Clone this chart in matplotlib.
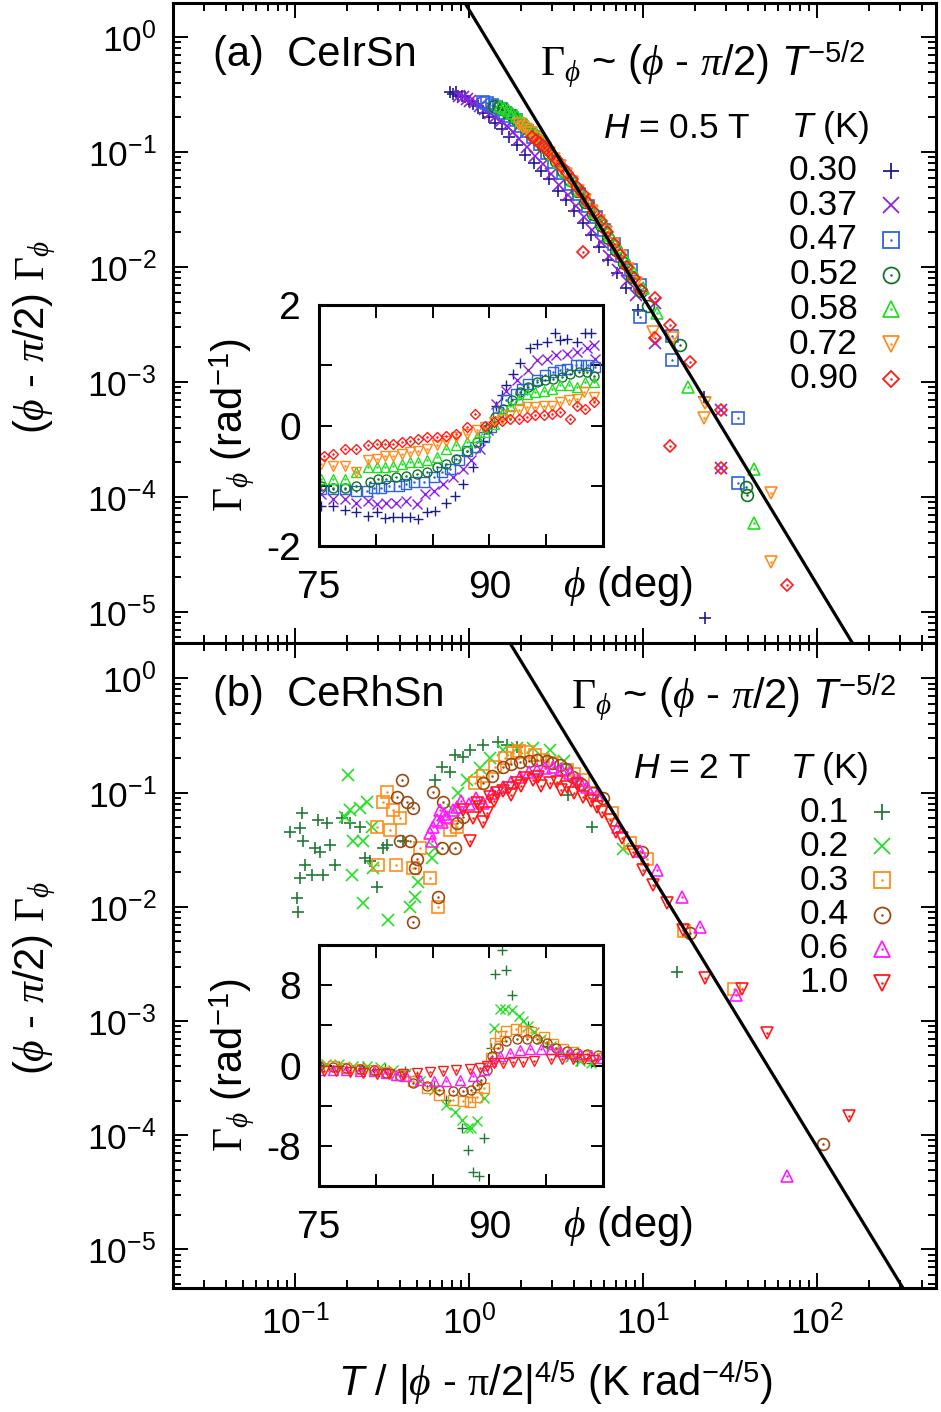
import numpy as np
import matplotlib
matplotlib.use("Agg")
import matplotlib.pyplot as plt
from matplotlib.lines import Line2D

plt.rcParams['font.family'] = ['Liberation Sans', 'DejaVu Sans']
plt.rcParams['mathtext.fontset'] = 'custom'
plt.rcParams['mathtext.rm'] = 'Liberation Serif'
plt.rcParams['mathtext.it'] = 'Liberation Serif:italic'
plt.rcParams['mathtext.sf'] = 'Liberation Sans:italic'
plt.rcParams['mathtext.tt'] = 'Liberation Sans'

W, H = 941, 1412
FS = 25.5      # ticks and key
FS_BIG = 30    # axis titles, panel titles
FS_IN = 28     # inset labels

# ---------------- panel (a) CeIrSn, H = 0.5 T ----------------
a_temps = ['0.30', '0.37', '0.47', '0.52', '0.58', '0.72', '0.90']
a_markers = ['+', 'x', 's', 'o', '^', 'v', 'D']
a_colors = ['#1c1c8c', '#8c20e0', '#2d64e0', '#127325', '#22dd22', '#ff8c1a', '#ff1a1a']

x_a_030 = [0.78, 0.81, 0.84, 0.87, 0.91, 0.95, 1.0, 1.06, 1.12, 1.2, 1.3, 1.42, 1.55, 1.7, 1.9, 2.1,
           2.35, 2.6, 2.9, 3.25, 3.6, 4.0, 4.5, 5.0, 5.6, 6.3, 7.1, 8.0, 9.4, 22.4, 22.7]
y_a_030 = [0.33, 0.32, 0.33, 0.31, 0.31, 0.30, 0.28, 0.26, 0.25, 0.22, 0.20, 0.18, 0.16, 0.135, 0.115,
           0.095, 0.080, 0.068, 0.058, 0.046, 0.038, 0.031, 0.024, 0.019, 0.015, 0.0115, 0.0088,
           0.0066, 0.0042, 7.4e-4, 8.9e-6]
x_a_037 = [0.88, 0.92, 0.97, 1.02, 1.08, 1.15, 1.23, 1.32, 1.42, 1.53, 1.65, 1.8, 1.95, 2.15, 2.4,
           2.65, 2.95, 3.3, 3.7, 4.1, 4.6, 5.1, 5.7, 6.4, 7.2, 8.1, 9.1, 11.7, 11.7, 28.1, 28.1]
y_a_037 = [0.31, 0.30, 0.29, 0.28, 0.27, 0.25, 0.235, 0.22, 0.20, 0.185, 0.17, 0.15, 0.13, 0.11,
           0.092, 0.078, 0.064, 0.052, 0.042, 0.034, 0.027, 0.021, 0.0165, 0.0125, 0.0095, 0.0075,
           0.0057, 0.0049, 0.0022, 5.7e-4, 1.8e-4]
x_a_047 = [1.2, 1.27, 1.35, 1.43, 1.52, 1.62, 1.73, 1.86, 2.0, 2.15, 2.33, 2.55, 2.8, 3.1, 3.45,
           3.85, 4.3, 4.8, 5.4, 6.0, 6.8, 7.6, 8.5, 9.6, 9.6, 14.7, 14.7, 35.2, 35.2]
y_a_047 = [0.27, 0.265, 0.255, 0.245, 0.235, 0.22, 0.205, 0.19, 0.17, 0.152, 0.135, 0.117, 0.099,
           0.082, 0.066, 0.053, 0.043, 0.034, 0.027, 0.021, 0.016, 0.0125, 0.0095, 0.0070, 0.0037,
           0.0025, 0.00155, 4.9e-4, 1.32e-4]
x_a_052 = [1.4, 1.48, 1.57, 1.66, 1.76, 1.87, 2.0, 2.14, 2.3, 2.48, 2.68, 2.9, 3.15, 3.45, 3.8,
           4.2, 4.65, 5.15, 5.7, 6.3, 7.0, 7.8, 8.7, 9.7, 10.7, 16.3, 39.1, 39.6]
y_a_052 = [0.25, 0.245, 0.235, 0.225, 0.21, 0.195, 0.18, 0.163, 0.145, 0.128, 0.112, 0.097, 0.083,
           0.069, 0.057, 0.046, 0.037, 0.029, 0.023, 0.018, 0.014, 0.0108, 0.0082, 0.0062, 0.0046,
           0.0021, 1.22e-4, 1.05e-4]
x_a_058 = [1.5, 1.58, 1.67, 1.77, 1.88, 2.0, 2.13, 2.28, 2.45, 2.63, 2.83, 3.05, 3.3, 3.6, 3.95,
           4.35, 4.8, 5.3, 5.9, 6.5, 7.2, 8.0, 8.9, 10.0, 12.0, 18.1, 43.4, 43.4]
y_a_058 = [0.25, 0.24, 0.23, 0.22, 0.205, 0.19, 0.175, 0.158, 0.142, 0.125, 0.11, 0.096, 0.082,
           0.069, 0.057, 0.047, 0.038, 0.030, 0.024, 0.019, 0.0148, 0.0115, 0.0088, 0.0066, 0.0040,
           9.0e-4, 1.75e-4, 5.9e-5]
x_a_072 = [1.95, 2.05, 2.16, 2.28, 2.42, 2.57, 2.73, 2.9, 3.1, 3.35, 3.6, 3.9, 4.25, 4.65, 5.1,
           5.6, 6.1, 6.7, 7.4, 8.2, 9.1, 11.4, 14.9, 22.7, 22.4, 54.4, 54.4]
y_a_072 = [0.175, 0.165, 0.155, 0.145, 0.133, 0.121, 0.109, 0.098, 0.087, 0.075, 0.065, 0.055,
           0.046, 0.038, 0.031, 0.025, 0.020, 0.016, 0.0125, 0.0096, 0.0072, 0.0027, 0.0024,
           6.6e-4, 4.9e-4, 1.08e-4, 2.7e-5]
x_a_090 = [2.3, 2.42, 2.55, 2.7, 2.85, 3.0, 3.2, 3.4, 3.65, 3.9, 4.2, 4.5, 4.85, 5.25, 5.7, 6.2,
           6.8, 7.4, 8.1, 8.9, 9.8, 11.7, 14.3, 11.7, 18.6, 28.1, 14.3, 28.1, 67.2, 4.5]
y_a_090 = [0.135, 0.128, 0.12, 0.111, 0.103, 0.095, 0.085, 0.076, 0.066, 0.058, 0.050, 0.043,
           0.036, 0.030, 0.025, 0.020, 0.016, 0.0128, 0.0101, 0.0080, 0.0063, 0.0054, 0.0031,
           0.0024, 0.0015, 5.7e-4, 2.8e-4, 1.8e-4, 1.7e-5, 0.0135]

# inset (a): Gamma_phi vs phi (deg)
phi_a_030 = [75.2, 76.2, 77.3, 78.3, 79.3, 80.1, 80.8, 81.5, 82.3, 83.0, 83.7, 84.5, 85.2, 86.2,
             87.0, 87.7, 88.6, 89.4, 90.6, 91.1, 91.5, 92.1, 92.7, 93.6, 94.2, 95.1, 95.8, 96.2,
             96.8, 97.7, 98.4, 98.9]
gam_a_030 = [-1.33, -1.33, -1.40, -1.44, -1.50, -1.44, -1.53, -1.52, -1.52, -1.52, -1.56, -1.43,
             -1.42, -1.28, -1.17, -0.97, -0.69, -0.25, 0.33, 0.50, 0.67, 0.86, 1.03, 1.28, 1.36,
             1.39, 1.53, 1.42, 1.44, 1.39, 1.53, 1.53]
phi_a_037 = [75.2, 76.2, 77.3, 78.3, 79.3, 80.1, 80.9, 81.8, 82.7, 83.6, 84.3, 85.1, 85.9, 86.8,
             87.7, 88.4, 89.2, 89.9, 90.6, 91.5, 92.4, 93.4, 94.2, 95.1, 95.9, 96.8, 97.7, 98.6,
             99.2, 99.3]
gam_a_037 = [-1.14, -1.22, -1.22, -1.28, -1.25, -1.31, -1.28, -1.28, -1.25, -1.31, -1.14, -1.08,
             -0.97, -0.86, -0.72, -0.58, -0.39, -0.08, 0.36, 0.58, 0.75, 0.92, 1.08, 1.11, 1.17,
             1.19, 1.22, 1.28, 1.33, 1.11]
phi_a_047 = [75.2, 76.2, 77.3, 78.3, 79.2, 79.8, 80.5, 81.2, 82.0, 82.7, 83.4, 84.2, 85.1, 85.8,
             86.5, 87.3, 88.0, 88.7, 89.5, 90.1, 90.8, 91.5, 92.3, 92.9, 93.4, 94.2, 94.9, 95.6,
             96.2, 96.8, 97.6, 98.1, 98.7, 99.3]
gam_a_047 = [-1.06, -1.06, -1.06, -1.08, -1.08, -1.03, -1.03, -1.00, -1.00, -0.97, -0.94, -0.94,
             -0.86, -0.78, -0.72, -0.58, -0.42, -0.36, -0.19, -0.03, 0.22, 0.42, 0.53, 0.61, 0.69,
             0.75, 0.83, 0.89, 0.92, 0.94, 1.00, 1.00, 1.00, 0.97]
phi_a_052 = [75.2, 76.2, 77.3, 78.3, 79.5, 80.2, 80.9, 81.8, 82.7, 83.6, 84.5, 85.4, 86.2, 87.1,
             88.0, 88.9, 89.8, 90.5, 91.2, 92.0, 92.7, 93.4, 94.2, 94.9, 95.6, 96.4, 97.1, 97.9,
             98.6, 99.2]
gam_a_052 = [-1.00, -1.03, -1.03, -1.00, -0.94, -0.89, -0.89, -0.86, -0.83, -0.81, -0.78, -0.69,
             -0.64, -0.56, -0.42, -0.28, -0.06, 0.14, 0.28, 0.42, 0.56, 0.64, 0.72, 0.75, 0.78,
             0.81, 0.86, 0.89, 0.89, 0.82]
phi_a_058 = [75.2, 76.2, 77.3, 78.3, 79.3, 80.1, 80.8, 81.5, 82.3, 83.0, 83.7, 84.5, 85.4, 86.2,
             87.1, 88.0, 88.9, 89.6, 90.4, 91.1, 91.8, 92.6, 93.3, 94.0, 94.8, 95.5, 96.2, 97.0,
             97.7, 98.4, 99.2]
gam_a_058 = [-0.89, -0.89, -0.89, -0.78, -0.69, -0.69, -0.69, -0.67, -0.64, -0.61, -0.61, -0.58,
             -0.53, -0.39, -0.33, -0.28, -0.19, -0.11, 0.03, 0.19, 0.33, 0.44, 0.53, 0.56, 0.58,
             0.61, 0.67, 0.67, 0.64, 0.72, 0.72]
phi_a_072 = [75.2, 76.2, 77.3, 78.3, 79.3, 80.1, 80.8, 81.5, 82.3, 83.0, 83.7, 84.5, 85.4, 86.2,
             87.1, 88.0, 88.9, 89.6, 90.4, 91.1, 91.8, 92.6, 93.3, 94.0, 94.8, 95.5, 96.2, 97.0,
             97.7, 98.3, 99.2]
gam_a_072 = [-0.64, -0.67, -0.67, -0.78, -0.58, -0.56, -0.50, -0.50, -0.47, -0.44, -0.42, -0.39,
             -0.33, -0.25, -0.19, -0.14, -0.08, -0.03, 0.06, 0.11, 0.17, 0.25, 0.31, 0.31, 0.33,
             0.33, 0.39, 0.42, 0.44, 0.56, 0.47]
phi_a_090 = [75.4, 76.2, 77.3, 78.3, 79.3, 80.1, 80.8, 81.5, 82.3, 83.0, 83.7, 84.5, 85.4, 86.2,
             87.1, 88.0, 88.7, 89.6, 90.4, 91.1, 91.8, 92.6, 93.3, 94.0, 94.8, 95.5, 96.2, 97.1,
             97.7, 98.4, 99.2]
gam_a_090 = [-0.50, -0.47, -0.39, -0.39, -0.33, -0.31, -0.31, -0.31, -0.28, -0.25, -0.22, -0.19,
             -0.19, -0.17, -0.14, -0.03, 0.19, 0.00, 0.06, 0.08, 0.11, 0.11, 0.14, 0.17, 0.17,
             0.19, 0.22, 0.11, 0.33, 0.28, 0.39]

# ---------------- panel (b) CeRhSn, H = 2 T ----------------
b_temps = ['0.1', '0.2', '0.3', '0.4', '0.6', '1.0']
b_markers = ['+', 'x', 's', 'o', '^', 'v']
b_colors = ['#237a37', '#22e022', '#ff8c1a', '#9c4a14', '#ff1aff', '#ff1a1a']

x_b_01 = [0.109, 0.136, 0.153, 0.094, 0.107, 0.111, 0.130, 0.139, 0.114, 0.125, 0.107, 0.145,
          0.170, 0.103, 0.104, 0.159, 0.186, 0.207, 0.236, 0.253, 0.296, 0.270, 0.321, 0.338,
          0.418, 0.638, 0.700, 0.778, 0.831, 0.924, 1.01, 1.20, 1.47, 1.65, 1.89, 3.71, 5.09, 15.7]
y_b_01 = [0.066, 0.057, 0.054, 0.045, 0.049, 0.038, 0.033, 0.030, 0.023, 0.019, 0.018, 0.019,
          0.023, 0.012, 0.009, 0.035, 0.060, 0.054, 0.050, 0.027, 0.015, 0.025, 0.033, 0.035,
          0.038, 0.129, 0.167, 0.151, 0.213, 0.205, 0.236, 0.261, 0.277, 0.261, 0.250, 0.095,
          0.050, 0.0027]
x_b_02 = [0.194, 0.201, 0.207, 0.236, 0.259, 0.215, 0.246, 0.277, 0.281, 0.212, 0.246, 0.343,
          0.458, 0.489, 0.51, 0.613, 0.638, 0.81, 0.865, 0.974, 1.16, 1.32, 1.57, 1.89, 2.33,
          2.92, 3.5, 7.67]
y_b_02 = [0.061, 0.142, 0.070, 0.074, 0.083, 0.038, 0.038, 0.050, 0.022, 0.019, 0.0108, 0.0077,
          0.0100, 0.0122, 0.0164, 0.027, 0.033, 0.070, 0.100, 0.129, 0.165, 0.200, 0.236, 0.246,
          0.246, 0.236, 0.19, 0.032]
x_b_03 = [0.296, 0.30, 0.321, 0.338, 0.351, 0.366, 0.381, 0.40, 0.476, 0.523, 0.597, 0.664,
          0.778, 0.853, 1.08, 1.2, 1.41, 1.6, 1.79, 1.95, 2.15, 2.4, 2.66, 3.0, 3.66, 4.0, 4.52,
          5.0, 6.6, 8.4, 10.6, 17.2, 33.5]
y_b_03 = [0.050, 0.023, 0.083, 0.101, 0.047, 0.070, 0.023, 0.060, 0.022, 0.033, 0.0177, 0.0100,
          0.047, 0.050, 0.121, 0.14, 0.167, 0.20, 0.222, 0.23, 0.227, 0.215, 0.193, 0.18, 0.158,
          0.145, 0.129, 0.10, 0.066, 0.0364, 0.026, 0.0061, 0.0019]
x_b_04 = [0.386, 0.40, 0.412, 0.44, 0.458, 0.476, 0.476, 0.489, 0.503, 0.621, 0.664, 0.70, 0.71,
          0.83, 0.853, 0.924, 1.20, 1.35, 1.57, 1.75, 1.96, 2.2, 2.46, 2.8, 3.0, 3.33, 3.6, 3.96,
          4.4, 5.16, 5.88, 9.9, 18.6, 107.7]
y_b_04 = [0.091, 0.038, 0.129, 0.083, 0.038, 0.073, 0.0074, 0.022, 0.026, 0.101, 0.0122, 0.033,
          0.083, 0.033, 0.054, 0.061, 0.121, 0.14, 0.167, 0.178, 0.185, 0.19, 0.193, 0.188, 0.18,
          0.174, 0.16, 0.137, 0.12, 0.100, 0.089, 0.030, 0.0059, 8.4e-5]
x_b_06 = [0.597, 0.613, 0.62, 0.655, 0.681, 0.70, 0.72, 0.747, 0.81, 0.853, 0.9, 1.0, 1.1, 1.2,
          1.35, 1.57, 1.75, 1.96, 2.2, 2.46, 2.75, 3.04, 3.4, 3.80, 4.3, 4.76, 5.43, 7.2, 9.6,
          12.0, 16.7, 21.2, 34.3, 67.2]
y_b_06 = [0.044, 0.038, 0.050, 0.058, 0.070, 0.055, 0.065, 0.061, 0.070, 0.075, 0.085, 0.080,
          0.090, 0.081, 0.100, 0.112, 0.125, 0.137, 0.150, 0.158, 0.165, 0.167, 0.160, 0.148,
          0.130, 0.112, 0.095, 0.050, 0.031, 0.0211, 0.0123, 0.0067, 0.0017, 4.4e-5]
x_b_10 = [0.924, 1.01, 1.05, 1.11, 1.15, 1.2, 1.27, 1.32, 1.4, 1.45, 1.57, 1.7, 1.75, 1.89, 2.0,
          2.1, 2.33, 2.5, 2.6, 2.92, 3.2, 3.4, 3.66, 4.0, 4.2, 4.52, 5.0, 5.43, 5.8, 6.45, 7.0,
          7.6, 8.8, 10.0, 11.4, 13.7, 16.9, 22.6, 37.0, 51.3, 152.8]
y_b_10 = [0.070, 0.038, 0.060, 0.081, 0.075, 0.055, 0.066, 0.091, 0.085, 0.100, 0.104, 0.110,
          0.095, 0.121, 0.115, 0.135, 0.129, 0.137, 0.115, 0.121, 0.125, 0.105, 0.112, 0.100,
          0.118, 0.091, 0.085, 0.075, 0.068, 0.058, 0.045, 0.040, 0.030, 0.021, 0.0155, 0.0108,
          0.0063, 0.0024, 0.0019, 7.8e-4, 1.47e-4]

# inset (b)
phi_b_01 = [75.2, 76.8, 78.9, 80.8, 82.6, 83.6, 85.1, 86.2, 87.6, 88.1, 88.6, 89.1, 89.5, 90.1,
            90.5, 91.1, 91.5, 92.0, 93.4, 95.1, 96.8, 97.7, 98.9]
gam_b_01 = [-0.07, -0.07, -0.07, -0.23, -0.57, -1.07, -2.07, -3.4, -6.2, -8.4, -10.6, -11.0,
            -7.2, 1.77, 9.1, 11.5, 9.5, 7.0, 3.9, 1.9, 0.9, 0.4, 0.27]
phi_b_02 = [75.6, 76.8, 78.0, 79.2, 80.4, 81.5, 82.7, 83.9, 85.1, 86.2, 87.0, 87.6, 88.1, 88.4,
            88.9, 89.5, 90.4, 90.9, 91.4, 92.0, 92.6, 93.0, 93.4, 93.9, 94.5, 95.4, 96.2, 97.1,
            98.0, 98.9]
gam_b_02 = [0.1, 0.1, -0.07, -0.07, -0.13, -0.4, -0.73, -1.57, -2.4, -3.9, -4.6, -5.4, -6.2,
            -6.2, -5.5, -3.2, 3.7, 5.6, 5.6, 5.5, 4.9, 4.4, 3.9, 3.3, 2.6, 1.9, 1.3, 0.8, 0.4, 0.27]
phi_b_03 = [75.0, 76.2, 77.4, 78.6, 79.8, 80.9, 82.1, 83.3, 84.5, 85.6, 86.8, 87.7, 88.3, 88.9,
            89.5, 90.1, 90.5, 90.9, 91.5, 92.3, 93.0, 93.7, 94.8, 95.6, 96.5, 97.4, 98.3, 99.9]
gam_b_03 = [-0.07, -0.07, -0.23, -0.33, -0.47, -0.67, -0.9, -1.57, -2.23, -2.9, -3.4, -3.57,
            -3.6, -3.1, -2.2, 0.77, 2.27, 2.9, 3.4, 3.6, 3.4, 3.3, 2.8, 2.1, 1.6, 1.3, 0.9, 0.77]
phi_b_04 = [75.0, 76.2, 77.4, 78.6, 79.8, 80.9, 82.1, 83.3, 84.5, 85.6, 86.8, 87.7, 88.4, 88.9,
            89.3, 89.8, 90.2, 90.8, 91.5, 92.4, 93.3, 94.2, 95.1, 95.9, 96.8, 97.7, 98.6, 99.6]
gam_b_04 = [-0.07, -0.1, -0.2, -0.3, -0.45, -0.7, -1.07, -1.73, -2.07, -2.4, -2.57, -2.57, -2.4,
            -1.9, -1.4, -0.4, 0.93, 1.77, 2.43, 2.6, 2.6, 2.6, 2.27, 1.77, 1.43, 1.27, 1.1, 1.0]
phi_b_06 = [75.0, 76.2, 77.4, 78.6, 79.8, 80.9, 81.8, 82.7, 83.9, 85.1, 86.2, 87.4, 88.6, 89.5,
            90.1, 90.9, 91.8, 92.7, 93.6, 94.5, 95.4, 96.2, 97.1, 98.0, 98.9, 99.9]
gam_b_06 = [-0.4, -0.4, -0.4, -0.57, -0.57, -0.73, -0.9, -1.07, -1.4, -1.57, -1.57, -1.4, -1.07,
            -0.4, 0.43, 0.93, 1.27, 1.53, 1.67, 1.67, 1.6, 1.43, 1.27, 1.1, 1.0, 0.77]
phi_b_10 = [75.4, 76.5, 77.7, 78.9, 80.1, 81.2, 82.4, 83.6, 84.8, 85.9, 87.1, 88.3, 89.2, 89.8,
            90.4, 91.2, 92.1, 93.0, 93.9, 95.4, 96.4, 97.4, 98.3, 99.2]
gam_b_10 = [-0.57, -0.57, -0.67, -0.73, -0.8, -0.8, -0.8, -0.73, -0.67, -0.57, -0.4, -0.33,
            -0.23, -0.07, 0.27, 0.27, 0.33, 0.37, 0.43, 0.67, 0.6, 0.6, 0.6, 0.53]

# power-law guide  (phi - pi/2) Gamma ~ x^(-5/2)
guide_exponent = -2.5
guide_prefactor_a = 1.73
guide_prefactor_b = 7.9

a_main = [(x_a_030, y_a_030), (x_a_037, y_a_037), (x_a_047, y_a_047), (x_a_052, y_a_052),
          (x_a_058, y_a_058), (x_a_072, y_a_072), (x_a_090, y_a_090)]
a_inset = [(phi_a_030, gam_a_030), (phi_a_037, gam_a_037), (phi_a_047, gam_a_047),
           (phi_a_052, gam_a_052), (phi_a_058, gam_a_058), (phi_a_072, gam_a_072),
           (phi_a_090, gam_a_090)]
b_main = [(x_b_01, y_b_01), (x_b_02, y_b_02), (x_b_03, y_b_03), (x_b_04, y_b_04),
          (x_b_06, y_b_06), (x_b_10, y_b_10)]
b_inset = [(phi_b_01, gam_b_01), (phi_b_02, gam_b_02), (phi_b_03, gam_b_03),
           (phi_b_04, gam_b_04), (phi_b_06, gam_b_06), (phi_b_10, gam_b_10)]


def box(left, top, right, bottom):
    return [left / W, 1 - bottom / H, (right - left) / W, (bottom - top) / H]


def fxy(px, py):
    return px / W, 1 - py / H


def draw(ax, x, y, marker, color, ms, mew=1.2):
    size = ms * 0.75 if marker == 'D' else ms
    ax.plot(x, y, ls='none', marker=marker, ms=size, mfc='none', mec=color, mew=mew)
    if marker not in ('+', 'x'):
        ax.plot(x, y, ls='none', marker='.', ms=1.6, color=color)


fig = plt.figure(figsize=(W / 100, H / 100), dpi=100)
ax_a = fig.add_axes(box(173, 3, 936, 643))
ax_b = fig.add_axes(box(173, 643, 936, 1288))
in_a = fig.add_axes(box(319, 305, 603, 546))
in_b = fig.add_axes(box(319, 945, 603, 1186))

xline = np.logspace(-2, 3, 300)

for ax, series, markers, colors, pref, ylim in [
        (ax_a, a_main, a_markers, a_colors, guide_prefactor_a, (5.37e-6, 1.977)),
        (ax_b, b_main, b_markers, b_colors, guide_prefactor_b, (4.6e-6, 2.04))]:
    for (x, y), m, c in zip(series, markers, colors):
        draw(ax, x, y, m, c, 8.5)
    ax.plot(xline, pref * xline ** guide_exponent, color='black', lw=2.3, zorder=5)
    ax.set_xscale('log')
    ax.set_yscale('log')
    ax.set_xlim(0.0199, 483)
    ax.set_ylim(*ylim)
    ax.set_yticks([1e0, 1e-1, 1e-2, 1e-3, 1e-4, 1e-5])
    ax.yaxis.set_minor_locator(matplotlib.ticker.LogLocator(subs=np.arange(2, 10), numticks=20))
    ax.xaxis.set_minor_locator(matplotlib.ticker.LogLocator(subs=np.arange(2, 10), numticks=20))
    ax.tick_params(which='both', direction='in', top=True, right=True, width=1.4,
                   labelsize=FS)
    ax.tick_params(which='major', length=11, pad=12)
    ax.tick_params(which='minor', length=5.5)
    for s in ax.spines.values():
        s.set_linewidth(2.2)
ax_a.tick_params(labelbottom=False)

for ax, series, markers, colors, ylim, yt, ytl in [
        (in_a, a_inset, a_markers, a_colors, (-2, 2), [-2, -1, 0, 1, 2], ['-2', '', '0', '', '2']),
        (in_b, b_inset, b_markers, b_colors, (-12, 12), [-8, -4, 0, 4, 8], ['-8', '', '0', '', '8'])]:
    for (x, y), m, c in zip(series, markers, colors):
        draw(ax, x, y, m, c, 6.5, mew=1.0)
    ax.set_xlim(75, 100)
    ax.set_ylim(*ylim)
    ax.set_xticks([75, 80, 85, 90, 95, 100])
    ax.set_xticklabels(['75', '', '', '90', '', ''])
    ax.set_yticks(yt)
    ax.set_yticklabels(ytl)
    ax.tick_params(direction='in', top=True, right=True, width=1.4, length=9,
                   labelsize=FS_IN)
    ax.tick_params(axis='x', pad=17)
    ax.tick_params(axis='y', pad=13)
    for s in ax.spines.values():
        s.set_linewidth(2.2)

# labels
phi_txt = r"($\phi$ - $\pi$/2) $\Gamma_{\phi}$"
fig.text(*fxy(35, 337), phi_txt, rotation=90, ha='center', va='center', fontsize=FS_BIG)
fig.text(*fxy(35, 978), phi_txt, rotation=90, ha='center', va='center', fontsize=FS_BIG)
fig.text(*fxy(555, 1383),
         r"$\mathsf{T}$ / |$\phi$ - $\mathrm{\pi}$/2|$^{\mathtt{4/5}}$ (K rad$^{\mathtt{-4/5}}$)",
         ha='center', va='center', fontsize=FS_BIG)

for top in (0, 640):
    fig.text(*fxy(232, 425 + top), r"$\Gamma_{\phi}$ (rad$^{\mathtt{-1}}$)", rotation=90,
             ha='center', va='center', fontsize=FS_BIG)
    fig.text(*fxy(628, 586 + top), r"$\phi$ (deg)", ha='center', va='center', fontsize=FS_BIG)

law = r"$\Gamma_{\phi}$ ~ ($\phi$ - $\pi$/2) $\mathsf{T}^{\mathtt{-5/2}}$"
fig.text(*fxy(213, 55), "(a)  CeIrSn", ha='left', va='center', fontsize=FS_BIG)
fig.text(*fxy(213, 695), "(b)  CeRhSn", ha='left', va='center', fontsize=FS_BIG)
fig.text(*fxy(540, 75), law, ha='left', va='baseline', fontsize=FS_BIG)
fig.text(*fxy(571, 708), law, ha='left', va='baseline', fontsize=FS_BIG)
fig.text(*fxy(603, 128), r"$\mathsf{H}$ = 0.5 T", ha='left', va='center', fontsize=FS)
fig.text(*fxy(791, 128), r"$\mathsf{T}$ (K)", ha='left', va='center', fontsize=FS)
fig.text(*fxy(633, 768), r"$\mathsf{H}$ = 2 T", ha='left', va='center', fontsize=FS)
fig.text(*fxy(790, 768), r"$\mathsf{T}$ (K)", ha='left', va='center', fontsize=FS)

# key entries
for temps, markers, colors, xr, xk, y0, dy in [
        (a_temps, a_markers, a_colors, 858, 891, 170.5, 34.7),
        (b_temps, b_markers, b_colors, 849, 882, 812, 34.2)]:
    for i, (t, m, c) in enumerate(zip(temps, markers, colors)):
        yy = y0 + i * dy
        fig.text(*fxy(xr, yy), t, ha='right', va='center', fontsize=FS)
        kx, ky = fxy(xk, yy)
        size = 11.5 * 0.75 if m == 'D' else 11.5
        fig.add_artist(Line2D([kx], [ky], transform=fig.transFigure, ls='none', marker=m,
                              ms=size, mfc='none', mec=c, mew=1.3))
        if m not in ('+', 'x'):
            fig.add_artist(Line2D([kx], [ky], transform=fig.transFigure, ls='none',
                                  marker='.', ms=1.6, color=c))

fig.savefig("out.png", dpi=100)
